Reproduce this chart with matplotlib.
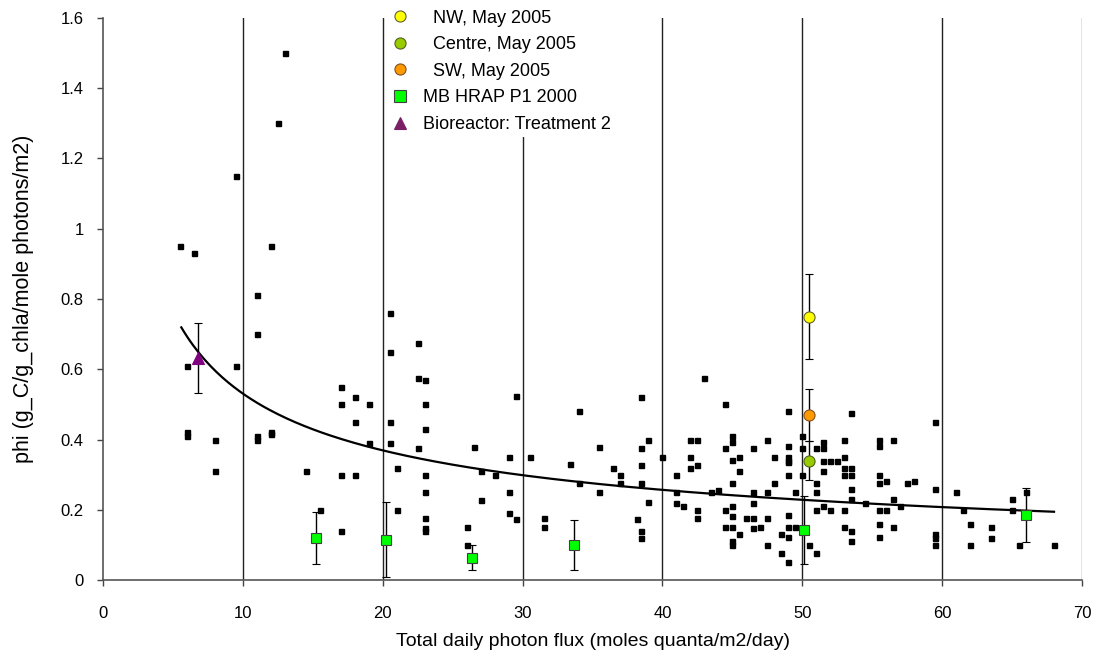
import numpy as np
import matplotlib
matplotlib.use("Agg")
import matplotlib.pyplot as plt
from matplotlib.lines import Line2D

plt.rcParams['font.family'] = ['Liberation Sans', 'DejaVu Sans']

# Individual measurements: photon flux vs phi
flux = [13.0, 12.5, 9.5, 5.5, 6.5, 12.0, 11.0, 11.0, 20.5,
        6.0, 9.5, 20.5, 6.0, 6.0, 8.0, 8.0, 11.0, 11.0, 12.0, 12.0,
        14.5, 17.0, 17.0, 18.0, 19.0, 18.0, 20.5, 19.0, 20.5, 21.0,
        17.0, 18.0, 15.5, 17.0, 21.0,
        22.5, 22.5, 23.0, 23.0, 23.0, 22.5, 23.0, 23.0, 23.0, 23.0, 23.0,
        26.5, 27.0, 28.0, 27.0, 26.0, 26.0, 29.0, 29.0, 29.0, 29.5, 29.5,
        30.5, 31.5, 31.5, 33.4, 34.0, 34.0, 35.5, 35.5, 36.5, 37.0, 37.0,
        38.5, 38.5, 38.5, 38.5, 39.0, 39.0, 38.2, 38.5, 38.5,
        40.0, 41.0, 41.0, 41.0, 41.5, 42.0, 42.5, 42.0, 42.0, 42.5, 42.5, 42.5,
        43.0, 44.5, 49.0, 53.5, 59.5,
        45.0, 45.0, 44.5, 47.5, 46.5, 49.0, 50.0, 50.0, 51.0, 51.5, 51.5,
        53.0, 55.5, 56.5, 55.5,
        45.0, 45.5, 45.5, 48.0, 49.0, 49.0, 49.0, 49.0, 50.0, 51.0,
        51.5, 52.0, 52.5, 51.5, 53.0, 53.0, 53.5, 53.0, 53.5, 55.5, 55.5, 56.0,
        57.5, 58.0, 59.5, 61.0,
        43.5, 44.0, 45.0, 46.5, 47.5, 48.0, 49.5, 51.0, 53.5, 53.5, 56.5, 54.5,
        44.5, 45.0, 45.0, 46.0, 46.5, 47.5, 46.5, 49.0, 51.0, 51.5, 52.0, 53.0,
        55.5, 56.0, 57.0,
        44.5, 45.0, 45.5, 45.0, 45.0, 46.5, 47.0, 47.5, 48.5, 49.0, 49.5, 49.0,
        48.5, 49.0, 50.5, 51.0, 53.0, 53.5, 53.5, 55.5, 55.5, 56.5,
        59.5, 59.5, 59.5,
        61.5, 62.0, 63.5, 63.5, 62.0, 65.0, 65.0, 66.0, 65.5, 68.0]
phi = [1.50, 1.30, 1.15, 0.95, 0.93, 0.95, 0.81, 0.70, 0.76,
       0.61, 0.61, 0.65, 0.42, 0.41, 0.40, 0.31, 0.41, 0.40, 0.42, 0.415,
       0.31, 0.55, 0.50, 0.52, 0.50, 0.45, 0.45, 0.39, 0.39, 0.32,
       0.30, 0.30, 0.20, 0.14, 0.20,
       0.675, 0.575, 0.57, 0.50, 0.43, 0.377, 0.30, 0.25, 0.176, 0.147, 0.14,
       0.38, 0.31, 0.30, 0.228, 0.15, 0.10, 0.35, 0.25, 0.19, 0.175, 0.524,
       0.35, 0.176, 0.15, 0.33, 0.48, 0.276, 0.38, 0.25, 0.32, 0.30, 0.276,
       0.52, 0.377, 0.327, 0.276, 0.40, 0.221, 0.175, 0.14, 0.12,
       0.35, 0.30, 0.25, 0.22, 0.21, 0.40, 0.40, 0.35, 0.32, 0.327, 0.20, 0.176,
       0.575, 0.50, 0.48, 0.475, 0.45,
       0.41, 0.392, 0.376, 0.40, 0.375, 0.382, 0.41, 0.376, 0.375, 0.392, 0.376,
       0.40, 0.40, 0.40, 0.382,
       0.341, 0.35, 0.311, 0.35, 0.35, 0.34, 0.335, 0.30, 0.30, 0.276,
       0.34, 0.34, 0.34, 0.311, 0.35, 0.32, 0.32, 0.30, 0.30, 0.30, 0.276, 0.283,
       0.276, 0.283, 0.26, 0.25,
       0.25, 0.257, 0.276, 0.25, 0.25, 0.276, 0.25, 0.25, 0.26, 0.23, 0.23, 0.22,
       0.20, 0.21, 0.183, 0.176, 0.176, 0.176, 0.218, 0.186, 0.20, 0.21, 0.20, 0.20,
       0.20, 0.20, 0.21,
       0.15, 0.15, 0.13, 0.112, 0.10, 0.147, 0.15, 0.10, 0.13, 0.15, 0.15, 0.122,
       0.076, 0.05, 0.10, 0.076, 0.15, 0.14, 0.112, 0.16, 0.122, 0.15,
       0.13, 0.12, 0.10,
       0.20, 0.16, 0.15, 0.12, 0.10, 0.23, 0.20, 0.25, 0.10, 0.10]

# Survey means with standard deviations
nw_x, nw_y, nw_err = [50.5], [0.75], [0.12]
centre_x, centre_y, centre_err = [50.5], [0.34], [0.055]
sw_x, sw_y, sw_err = [50.5], [0.47], [0.075]
hrap_x = [15.2, 20.2, 26.4, 33.7, 50.1, 66.0]
hrap_y = [0.12, 0.115, 0.064, 0.10, 0.143, 0.184]
hrap_err = [0.074, 0.107, 0.035, 0.071, 0.097, 0.077]
bio_x, bio_y, bio_err = [6.8], [0.633], [0.10]

legend_labels = ["  NW, May 2005", "  Centre, May 2005", "  SW, May 2005",
                 "MB HRAP P1 2000", "Bioreactor: Treatment 2"]

W, H = 1107, 661
fig = plt.figure(figsize=(W / 100, H / 100), dpi=100)
ax = fig.add_axes([103 / W, 1 - 580 / H, (1082 - 103) / W, (580 - 18) / H])

ax.set_xlim(0, 70)
ax.set_ylim(0, 1.6)
ax.set_xticks(np.arange(0, 71, 10))
ax.set_yticks(np.arange(0, 1.61, 0.2))
ax.set_yticklabels(["0", "0.2", "0.4", "0.6", "0.8", "1", "1.2", "1.4", "1.6"])
ax.tick_params(direction='out', length=4, width=1, color='#444444', labelsize=12)
ax.tick_params(axis='y', pad=10)
ax.tick_params(axis='x', pad=15)

for side in ('top', 'right'):
    ax.spines[side].set_visible(False)
for side in ('left', 'bottom'):
    ax.spines[side].set_color('#555555')
    ax.spines[side].set_linewidth(1.2)

# vertical grid lines at each major x tick
for xv in np.arange(10, 71, 10):
    ax.axvline(xv, color='#222222' if xv < 70 else '#777777', lw=1.0, zorder=1)

# power-law trend through the individual measurements
fx = np.asarray(flux)
fy = np.asarray(phi)
b, ln_a = np.polyfit(np.log(fx), np.log(fy), 1)
xc = np.linspace(fx.min() + 0.1, fx.max(), 300)
ax.plot(xc, np.exp(ln_a) * xc ** b, color='black', lw=1.6, zorder=3)

ax.plot(flux, phi, ls='none', marker='s', ms=3.6, color='black', zorder=4)

ekw = dict(ls='none', ecolor='black', elinewidth=1, capsize=2.8, capthick=1, zorder=5)
ax.errorbar(hrap_x, hrap_y, yerr=hrap_err, marker='s', ms=7.5, mfc='#00ff00',
            mec='#404040', mew=0.8, **ekw)
ax.errorbar(nw_x, nw_y, yerr=nw_err, marker='o', ms=8, mfc='#ffff00',
            mec='#606030', mew=0.8, **ekw)
ax.errorbar(sw_x, sw_y, yerr=sw_err, marker='o', ms=8, mfc='#ff9900',
            mec='#805020', mew=0.8, **ekw)
ax.errorbar(centre_x, centre_y, yerr=centre_err, marker='o', ms=8, mfc='#99cc00',
            mec='#506020', mew=0.8, **ekw)
ax.errorbar(bio_x, bio_y, yerr=bio_err, marker='^', ms=8, mfc='#800080',
            mec='#800080', mew=0.8, **ekw)

handles = [
    Line2D([], [], ls='none', marker='o', ms=8, mfc='#ffff00', mec='#606030', mew=0.8),
    Line2D([], [], ls='none', marker='o', ms=8, mfc='#99cc00', mec='#506020', mew=0.8),
    Line2D([], [], ls='none', marker='o', ms=8, mfc='#ff9900', mec='#805020', mew=0.8),
    Line2D([], [], ls='none', marker='s', ms=8, mfc='#00ff00', mec='#404040', mew=0.8),
    Line2D([], [], ls='none', marker='^', ms=8, mfc='#7a1f66', mec='#7a1f66', mew=0.8),
]
leg = ax.legend(handles, legend_labels, loc='upper left',
                bbox_to_anchor=(387 / W, 1 - 6 / H), bbox_transform=fig.transFigure,
                frameon=True, fancybox=False, edgecolor='none', facecolor='white',
                framealpha=1, fontsize=13, handlelength=1.0, handletextpad=0.8,
                labelspacing=0.53, borderpad=0.2, borderaxespad=0)
leg.set_zorder(10)

ax.set_xlabel("Total daily photon flux (moles quanta/m2/day)", fontsize=14, labelpad=8)
ax.set_ylabel("phi (g_C/g_chla/mole photons/m2)", fontsize=15.5)
ax.yaxis.set_label_coords((34 - 103) / (1082 - 103), 0.5)

fig.savefig("out.png", dpi=100, facecolor='white')
